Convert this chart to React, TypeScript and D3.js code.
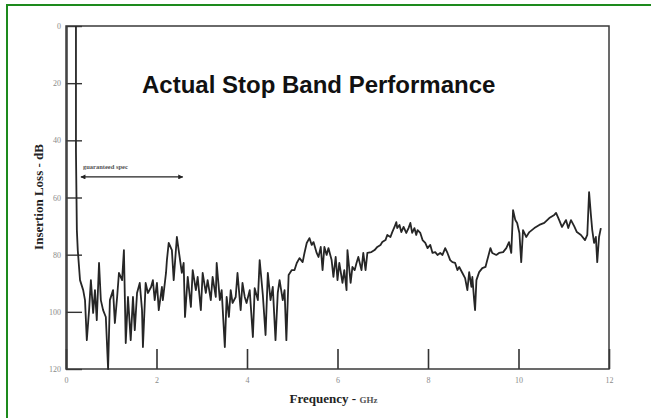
import { useEffect, useRef } from "react";
import * as d3 from "d3";

// insertion loss trace (GHz, dB)
const freqGHz = [
  0.22, 0.22, 0.24, 0.26, 0.31, 0.38, 0.42, 0.46, 0.51, 0.55, 0.6, 0.64, 0.68, 0.73, 0.77, 0.82,
  0.88, 0.93, 0.97, 1.04, 1.08, 1.13, 1.17, 1.24, 1.28, 1.32, 1.37, 1.43, 1.48, 1.52, 1.57, 1.63,
  1.68, 1.7, 1.76, 1.81, 1.88, 1.92, 1.96, 2.01, 2.05, 2.12, 2.14, 2.21, 2.23, 2.27, 2.34, 2.38,
  2.45, 2.49, 2.56, 2.6, 2.63, 2.69, 2.76, 2.8, 2.87, 2.91, 2.98, 3.02, 3.09, 3.13, 3.2, 3.24,
  3.31, 3.33, 3.4, 3.44, 3.51, 3.55, 3.6, 3.64, 3.68, 3.75, 3.79, 3.86, 3.9, 3.95, 3.99, 4.06,
  4.13, 4.17, 4.24, 4.28, 4.35, 4.41, 4.46, 4.52, 4.57, 4.63, 4.68, 4.72, 4.79, 4.83, 4.87, 4.92,
  4.99, 5.05, 5.1, 5.16, 5.23, 5.27, 5.32, 5.38, 5.43, 5.47, 5.54, 5.58, 5.63, 5.67, 5.71, 5.76,
  5.8, 5.87, 5.91, 5.96, 6.0, 6.04, 6.11, 6.15, 6.2, 6.22, 6.29, 6.33, 6.38, 6.42, 6.46, 6.53,
  6.57, 6.62, 6.66, 6.75, 6.82, 6.88, 6.95, 6.99, 7.06, 7.1, 7.17, 7.21, 7.26, 7.3, 7.32, 7.37,
  7.41, 7.46, 7.52, 7.57, 7.61, 7.65, 7.7, 7.74, 7.77, 7.83, 7.88, 7.94, 7.99, 8.05, 8.1, 8.16,
  8.21, 8.27, 8.32, 8.38, 8.43, 8.49, 8.54, 8.6, 8.65, 8.69, 8.76, 8.82, 8.87, 8.91, 8.96, 8.98,
  9.02, 9.04, 9.07, 9.13, 9.2, 9.27, 9.31, 9.38, 9.42, 9.51, 9.57, 9.66, 9.73, 9.79, 9.84, 9.88,
  9.93, 9.97, 10.02, 10.06, 10.1, 10.17, 10.24, 10.35, 10.46, 10.57, 10.68, 10.79, 10.83, 10.9, 10.96, 11.05,
  11.1, 11.16, 11.23, 11.29, 11.38, 11.47, 11.52, 11.56, 11.6, 11.63, 11.67, 11.71, 11.74, 11.78, 11.82,
];
const lossDb = [
  0, 43.7, 71.4, 78.4, 88.9, 92.4, 95.9, 109.9, 99.4, 88.9, 100.4, 92.4, 102.9, 82.9, 95.9, 99.4,
  101.8, 120, 95.9, 92.4, 103.9, 94.8, 86.4, 88.9, 78.4, 110.9, 94.8, 109.9, 94.8, 106.4, 93.4, 89.9,
  99.4, 112.3, 89.9, 93.4, 91.3, 88.9, 95.9, 89.9, 99.4, 91.3, 95.9, 86.4, 81.9, 75.9, 78.4, 88.9,
  73.8, 78.4, 86.4, 82.9, 101.8, 87.8, 98.3, 85.4, 92.4, 87.8, 99.4, 86.4, 93.4, 88.9, 95.9, 87.8,
  94.8, 82.9, 95.9, 92.4, 112.3, 94.8, 101.8, 92.4, 96.9, 94.8, 86.4, 99.4, 89.9, 94.8, 96.9, 92.4,
  108.8, 91.7, 95.9, 81.9, 94.1, 108.1, 86.4, 95.9, 91.3, 109.9, 93.4, 88.9, 95.9, 92.4, 109.9, 87.1,
  85.4, 85.4, 82.9, 81.2, 82.6, 79.4, 75.9, 74.2, 76.6, 75.6, 79.4, 80.8, 77.3, 85.4, 77.3, 80.1,
  77.7, 81.9, 87.8, 80.8, 88.9, 82.9, 89.9, 85.4, 92.4, 78.4, 89.9, 84.3, 85.4, 82.9, 80.8, 85.4,
  79.4, 85.4, 79.4, 79.1, 78.4, 77.3, 76.6, 75.6, 74.9, 73.1, 73.8, 72.1, 70.3, 68.6, 70.7, 69.6,
  72.1, 70.3, 72.4, 70.7, 68.9, 72.4, 70.7, 73.1, 71.4, 72.4, 74.9, 75.9, 77.7, 76.6, 79.4, 79.1,
  80.1, 79.4, 80.1, 77.7, 79.4, 81.9, 82.6, 82.9, 85.4, 84.3, 86.4, 88.2, 92.4, 86.1, 91.3, 87.8,
  95.9, 99.4, 88.9, 86.1, 84.7, 84.3, 81.9, 77.7, 79.4, 80.1, 79.4, 79.1, 77.7, 75.6, 79.4, 64.4,
  67.9, 68.9, 72.4, 82.6, 71.4, 73.8, 72.1, 70.7, 69.6, 68.9, 67.2, 66.1, 65.4, 67.9, 70.3, 67.9,
  70.7, 67.9, 70.0, 72.1, 73.1, 74.9, 73.1, 58.1, 66.1, 71.4, 75.9, 73.8, 82.6, 73.8, 70.7,
];

const xTicks = [0, 2, 4, 6, 8, 10, 12];
const yTicks = [0, 20, 40, 60, 80, 100, 120];

// "guaranteed spec" arrow: span in GHz and the level it sits at
const specRange = [0.33, 2.58];
const specLevel = 52.8;

export default function App() {
  const svgRef = useRef<SVGSVGElement>(null);

  useEffect(() => {
    if (!svgRef.current) return;
    const W = 651;
    const H = 418;
    const svg = d3.select(svgRef.current);
    svg.selectAll("*").remove();

    const x = d3.scaleLinear().domain([0, 12]).range([66, 609]);
    const y = d3.scaleLinear().domain([0, 120]).range([26, 369]);
    const serif = "'Liberation Serif', 'DejaVu Serif', serif";

    svg.append("rect").attr("width", W).attr("height", H).attr("fill", "#fff");

    // green frame of the page (only left and top are visible)
    svg
      .append("rect")
      .attr("x", 7)
      .attr("y", 5)
      .attr("width", W + 20)
      .attr("height", H + 20)
      .attr("fill", "none")
      .attr("stroke", "#1d8a1d")
      .attr("stroke-width", 2);

    // axes with inward ticks
    const gx = svg
      .append("g")
      .attr("transform", `translate(0,${y(120)})`)
      .call(d3.axisBottom(x).tickValues(xTicks).tickSizeInner(-20).tickSizeOuter(0).tickPadding(8));
    gx.select(".domain").remove();
    gx.selectAll("line").attr("stroke", "#333").attr("stroke-width", 1.6);
    gx.selectAll("text").attr("fill", "#8a8a8a").attr("font-size", 8).attr("font-family", serif);

    const gy = svg
      .append("g")
      .attr("transform", `translate(${x(0)},0)`)
      .call(d3.axisLeft(y).tickValues(yTicks).tickSizeInner(-16).tickSizeOuter(0).tickPadding(5));
    gy.select(".domain").remove();
    gy.selectAll("line").attr("stroke", "#333").attr("stroke-width", 1.4);
    gy.selectAll("text").attr("fill", "#8a8a8a").attr("font-size", 8).attr("font-family", serif);

    // plot frame
    svg
      .append("rect")
      .attr("x", x(0))
      .attr("y", y(0))
      .attr("width", x(12) - x(0))
      .attr("height", y(120) - y(0))
      .attr("fill", "none")
      .attr("stroke", "#3a3a3a")
      .attr("stroke-width", 1.5);
    svg
      .append("line")
      .attr("x1", x(0) + 1)
      .attr("x2", x(0) + 1)
      .attr("y1", y(0))
      .attr("y2", y(120))
      .attr("stroke", "#3a3a3a")
      .attr("stroke-width", 1.5);

    // trace
    const line = d3
      .line<number>()
      .x((d) => x(d))
      .y((_, i) => y(lossDb[i]));
    svg
      .append("path")
      .attr("d", line(freqGHz))
      .attr("fill", "none")
      .attr("stroke", "#262626")
      .attr("stroke-width", 1.8)
      .attr("stroke-linejoin", "round");

    // guaranteed spec arrow
    const defs = svg.append("defs");
    defs
      .append("marker")
      .attr("id", "arr")
      .attr("viewBox", "0 0 10 10")
      .attr("refX", 9)
      .attr("refY", 5)
      .attr("markerWidth", 8)
      .attr("markerHeight", 5)
      .attr("orient", "auto-start-reverse")
      .attr("markerUnits", "userSpaceOnUse")
      .append("path")
      .attr("d", "M0,0 L10,5 L0,10 Z")
      .attr("fill", "#222");
    svg
      .append("line")
      .attr("x1", x(specRange[0]))
      .attr("x2", x(specRange[1]))
      .attr("y1", y(specLevel))
      .attr("y2", y(specLevel))
      .attr("stroke", "#222")
      .attr("stroke-width", 1.2)
      .attr("marker-start", "url(#arr)")
      .attr("marker-end", "url(#arr)");
    svg
      .append("text")
      .attr("x", x(specRange[0]) + 2)
      .attr("y", y(specLevel) - 8)
      .attr("font-family", serif)
      .attr("font-size", 6.5)
      .attr("font-weight", "bold")
      .attr("fill", "#555")
      .text("guaranteed spec");

    // title
    svg
      .append("text")
      .attr("x", 142)
      .attr("y", 93)
      .attr("font-family", "'Liberation Sans', Arial, sans-serif")
      .attr("font-size", 24)
      .attr("font-weight", "bold")
      .attr("fill", "#111")
      .text("Actual Stop Band Performance");

    // axis titles
    const xt = svg
      .append("text")
      .attr("x", (x(0) + x(12)) / 2 - 4)
      .attr("y", 403)
      .attr("text-anchor", "middle")
      .attr("font-family", serif)
      .attr("font-weight", "bold")
      .attr("fill", "#222");
    xt.append("tspan").attr("font-size", 13).text("Frequency - ");
    xt.append("tspan").attr("font-size", 9).attr("fill", "#555").text("GHz");

    svg
      .append("text")
      .attr("transform", `translate(43,197) rotate(-90)`)
      .attr("text-anchor", "middle")
      .attr("font-family", serif)
      .attr("font-weight", "bold")
      .attr("font-size", 13)
      .attr("fill", "#222")
      .text("Insertion Loss - dB");
  }, []);

  return (
    <svg
      ref={svgRef}
      width={651}
      height={418}
      style={{ position: "absolute", left: 0, top: 0, display: "block" }}
    />
  );
}
